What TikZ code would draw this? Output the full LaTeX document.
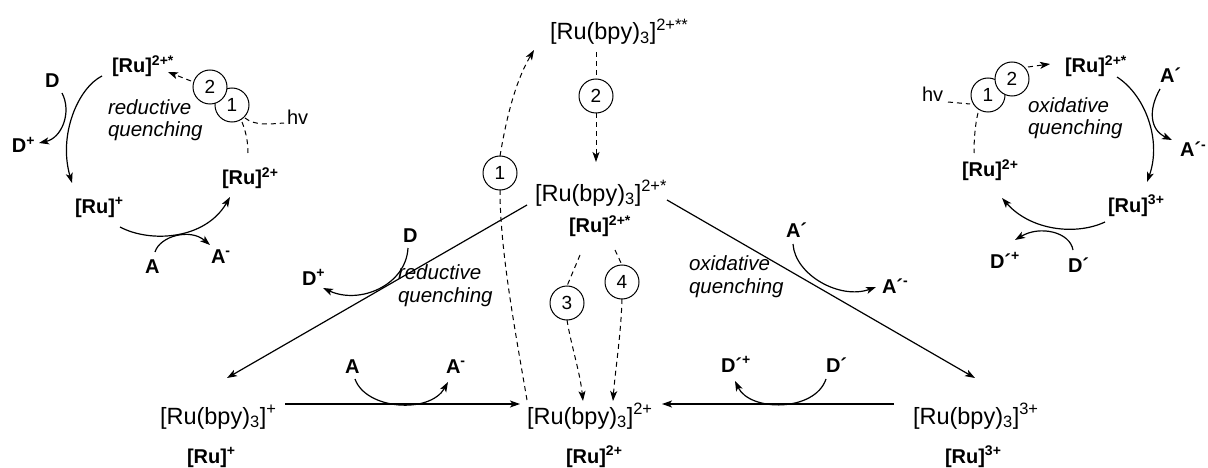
\documentclass[tikz,border=0pt]{standalone}
\usepackage{fontspec}
\setmainfont{Liberation Sans}
\usetikzlibrary{arrows.meta}
\begin{document}
\begin{tikzpicture}[x=1pt,y=-1pt,
  every node/.style={inner sep=0pt,outer sep=0pt},
  mainlbl/.style={anchor=base west,font=\fontsize{23.5}{27}\selectfont},
  boldlbl/.style={anchor=base west,font=\bfseries\fontsize{20}{23}\selectfont},
  itlbl/.style={anchor=base west,font=\itshape\fontsize{20.5}{23.5}\selectfont,align=left},
  hvlbl/.style={anchor=base west,font=\fontsize{20}{22}\selectfont},
  numc/.style={circle,draw,fill=white,line width=1pt,minimum size=34pt,font=\fontsize{19}{21}\selectfont},
  ln/.style={line width=1.2pt},
  arr/.style={ln,-{Stealth[length=10pt,width=7pt,inset=2.5pt]}},
  dsh/.style={line width=1pt,dash pattern=on 5pt off 4pt},
  darr/.style={dsh,-{Stealth[length=10pt,width=7pt,inset=2.5pt]}}]
\useasboundingbox (0,0) rectangle (1208,468);

% ---------- central scheme ----------
\node[mainlbl] (top) at (550,40) {[Ru(bpy)\textsubscript{3}]\textsuperscript{2+**}};
\node[mainlbl] (mid) at (535,201) {[Ru(bpy)\textsubscript{3}]\textsuperscript{2+*}};
\node[boldlbl] (midb) at (569,233) {[Ru]\textsuperscript{2+*}};
\node[mainlbl] (bl) at (160,424) {[Ru(bpy)\textsubscript{3}]\textsuperscript{+}};
\node[boldlbl] (blb) at (187,463) {[Ru]\textsuperscript{+}};
\node[mainlbl] (bc) at (527,424) {[Ru(bpy)\textsubscript{3}]\textsuperscript{2+}};
\node[boldlbl] (bcb) at (566,463) {[Ru]\textsuperscript{2+}};
\node[mainlbl] (br) at (913,424) {[Ru(bpy)\textsubscript{3}]\textsuperscript{3+}};
\node[boldlbl] (brb) at (945,463) {[Ru]\textsuperscript{3+}};

\node[numc] (c2) at (596,96) {2};
\node[numc] (c1) at (500,173) {1};
\node[numc] (c3) at (567,303) {3};
\node[numc] (c4) at (622,282) {4};

\coordinate (topS) at (596,52);
\coordinate (midN) at (596,162);
\coordinate (c1end) at (534,50);
\coordinate (c1start) at (527,400);
\draw[dsh] (topS) -- (c2.north);
\draw[darr] (c2.south) -- (midN);
\draw[dsh] (c1start) .. controls (515,330) and (500,250) .. (c1.south);
\draw[darr] (c1.north) .. controls (506,120) and (515,82) .. (c1end);

\coordinate (m3) at (580,255);
\coordinate (m4) at (615,250);
\coordinate (e3) at (583,401);
\coordinate (e4) at (613,401);
\draw[dsh] (m3) -- (c3.north);
\draw[dsh] (m4) -- (c4.north);
\draw[darr] (c3.south) .. controls (571,345) and (580,372) .. (e3);
\draw[darr] (c4.south) .. controls (621,335) and (615,372) .. (e4);

% diagonals
\coordinate (dl1) at (527,205);
\coordinate (dl2) at (227,378);
\coordinate (dr1) at (667,200);
\coordinate (dr2) at (975,378);
\draw[arr] (dl1) -- (dl2);
\draw[arr] (dr1) -- (dr2);

% horizontals
\coordinate (hl1) at (285,404);
\coordinate (hl2) at (520,404);
\coordinate (hr1) at (894,404);
\coordinate (hr2) at (662,404);
\draw[arr] (hl1) -- (hl2);
\draw[arr] (hr1) -- (hr2);

% small reagents
\node[boldlbl] (D) at (403,242) {D};
\node[boldlbl] (Dp) at (302,285) {D\textsuperscript{+}};
\draw[arr] (408,248) .. controls (406,285) and (360,305) .. (323,288);

\node[boldlbl] (Ap) at (786,237) {A\textasciiacute};
\node[boldlbl] (Apm) at (882,293) {A\textasciiacute\textsuperscript{-}};
\draw[arr] (793,244) .. controls (795,275) and (840,300) .. (876,287);

\node[boldlbl] (A) at (345,373) {A};
\node[boldlbl] (Am) at (446,373) {A\textsuperscript{-}};
\draw[arr] (355,379) .. controls (366,410) and (430,414) .. (448,382);

\node[boldlbl] (Dpp) at (721,372) {D\textasciiacute\textsuperscript{+}};
\node[boldlbl] (Dpr) at (826,372) {D\textasciiacute};
\draw[arr] (826,379) .. controls (815,412) and (750,412) .. (735,381);

\node[itlbl] (redq) at (398,302) {reductive\\[-1pt]quenching};
\node[itlbl] (oxq) at (689,293) {oxidative\\[-1pt]quenching};

% ---------- left cycle ----------
\node[boldlbl] (L2s) at (112,73) {[Ru]\textsuperscript{2+*}};
\node[boldlbl] (LD) at (45,88) {D};
\node[boldlbl] (LDp) at (12,153) {D\textsuperscript{+}};
\node[boldlbl] (L2) at (222,185) {[Ru]\textsuperscript{2+}};
\node[boldlbl] (L1) at (75,213) {[Ru]\textsuperscript{+}};
\node[boldlbl] (LA) at (145,273) {A};
\node[boldlbl] (LAm) at (211,263) {A\textsuperscript{-}};
\node[hvlbl] (Lhv) at (287,125) {hv};
\node[itlbl] (Lq) at (108,137) {reductive\\[-1pt]quenching};
\node[numc] (Lc1) at (232,105) {1};
\node[numc] (Lc2) at (210,87) {2};

\draw[arr] (102,76) .. controls (78,88) and (58,135) .. (72,183);
\draw[arr] (62,93) .. controls (72,112) and (62,138) .. (39,143);
\draw[arr] (120,227) .. controls (150,243) and (205,240) .. (230,197);
\draw[arr] (155,252) .. controls (160,236) and (190,228) .. (210,245);
\draw[darr] (Lc2.west) ++(-2,-6) -- (168,72);
\draw[dsh] (245,118) .. controls (255,126) and (270,124) .. (284,123);
\draw[dsh] (242,122) .. controls (246,132) and (248,142) .. (248,153);

% ---------- right cycle ----------
\node[boldlbl] (R2s) at (1065,73) {[Ru]\textsuperscript{2+*}};
\node[boldlbl] (RAp) at (1160,83) {A\textasciiacute};
\node[boldlbl] (RApm) at (1180,157) {A\textasciiacute\textsuperscript{-}};
\node[boldlbl] (R2) at (962,177) {[Ru]\textsuperscript{2+}};
\node[boldlbl] (R3) at (1108,212) {[Ru]\textsuperscript{3+}};
\node[boldlbl] (RDpp) at (990,268) {D\textasciiacute\textsuperscript{+}};
\node[boldlbl] (RDp) at (1068,272) {D\textasciiacute};
\node[hvlbl] (Rhv) at (922,102) {hv};
\node[itlbl] (Rq) at (1028,135) {oxidative\\[-1pt]quenching};
\node[numc] (Rc1) at (988,95) {1};
\node[numc] (Rc2) at (1012,79) {2};

\draw[arr] (1117,77) .. controls (1145,95) and (1162,140) .. (1147,182);
\draw[arr] (1160,89) .. controls (1148,110) and (1150,130) .. (1172,140);
\draw[arr] (1105,222) .. controls (1075,236) and (1030,230) .. (1002,198);
\draw[arr] (1073,250) .. controls (1070,232) and (1040,225) .. (1015,240);
\draw[darr] (1028,67) -- (1050,64);
\draw[dsh] (948,102) -- (970,104);
\draw[dsh] (978,113) .. controls (975,125) and (974,140) .. (974,153);
\end{tikzpicture}
\end{document}
